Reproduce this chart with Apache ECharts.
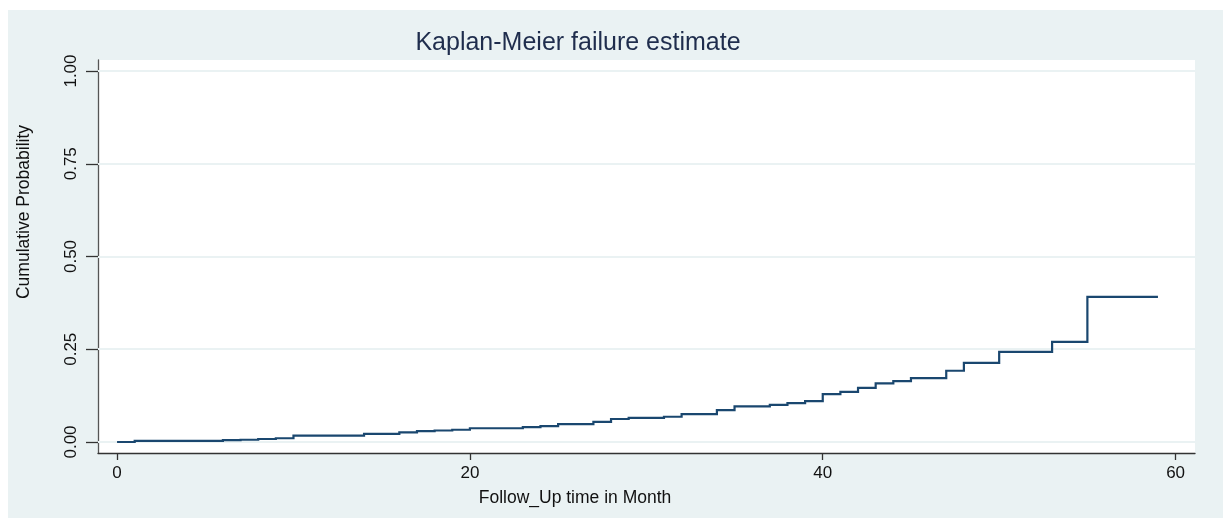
<!DOCTYPE html>
<html><head><meta charset="utf-8">
<script src="https://cdn.jsdelivr.net/npm/echarts@6/dist/echarts.min.js"></script>
<style>html,body{margin:0;padding:0;background:#fff}#c{width:1223px;height:518px}</style>
</head><body><div id="c"></div>
<script>
const titleText = 'Kaplan-Meier failure estimate';
const xTitle = 'Follow_Up time in Month';
const yTitle = 'Cumulative Probability';
const xTicks = [0, 20, 40, 60];
const yTicks = [0, 0.25, 0.5, 0.75, 1];
const months = [0,1,6,7,8,9,10,14,16,17,18,19,20,23,24,25,27,28,29,31,32,34,35,37,38,39,40,41,42,43,44,45,47,48,50,53,55,59];
const failure = [0,0.003,0.005,0.006,0.008,0.010,0.017,0.022,0.026,0.029,0.031,0.033,0.037,0.040,0.043,0.048,0.054,0.062,0.065,0.068,0.075,0.086,0.096,0.100,0.105,0.110,0.129,0.135,0.146,0.158,0.164,0.172,0.192,0.213,0.243,0.270,0.391,0.391];

// Build step-function vertices (horizontal then vertical) from the data arrays
const stepData = [];
months.forEach((m, i) => {
  if (i > 0) stepData.push([m, failure[i-1]]);
  stepData.push([m, failure[i]]);
});

const chart = echarts.init(document.getElementById('c'), null, {renderer:'canvas'});
const font = 'Liberation Sans, Arial, sans-serif';
chart.setOption({
  backgroundColor: '#ffffff',
  animation: false,
  graphic: [
    {type:'rect', z:-10, silent:true, shape:{x:8,y:10,width:1215,height:508}, style:{fill:'#EAF2F3'}},
    {type:'text', x:578, y:43, style:{text:titleText, align:'center', verticalAlign:'middle', fill:'#1f2d4d', font:'25px '+font}},
    {type:'text', x:575, y:498, style:{text:xTitle, align:'center', verticalAlign:'middle', fill:'#111', font:'17.5px '+font}},
    {type:'text', rotation:Math.PI/2, x:24, y:212, style:{text:yTitle, align:'center', verticalAlign:'middle', fill:'#111', font:'17.5px '+font}}
  ],
  grid: {left:98, right:28, top:60, bottom:65, show:true, backgroundColor:'#ffffff', borderWidth:0},
  xAxis: {
    type:'value', min:-1.08, max:61.1,
    axisLine:{show:true, onZero:false, lineStyle:{color:'#333', width:1.3}},
    axisTick:{show:true, length:7, customValues:xTicks, lineStyle:{color:'#333', width:1.3}},
    axisLabel:{customValues:xTicks, margin:12, color:'#111', fontSize:17, fontFamily:font},
    splitLine:{show:false}
  },
  yAxis: {
    type:'value', min:-0.0297, max:1.0297,
    axisLine:{show:true, onZero:false, lineStyle:{color:'#555', width:1.3}},
    axisTick:{show:true, length:12, customValues:yTicks, lineStyle:{color:'#333', width:1.3}},
    axisLabel:{customValues:yTicks, rotate:90, margin:18, color:'#111', fontSize:17, fontFamily:font,
      formatter: v => v.toFixed(2)},
    splitLine:{show:false}
  },
  series: [{
    type:'line', showSymbol:false, symbol:'none',
    data: [], silent:true,
    markLine:{silent:true, symbol:'none', label:{show:false}, z:1,
      lineStyle:{color:'#EAF2F3', width:2, type:'solid'},
      data: yTicks.map(v=>({yAxis:v}))}
  }, {
    type:'lines', coordinateSystem:'cartesian2d', polyline:true, silent:true, z:3,
    data: [{coords: stepData}],
    lineStyle:{color:'#1a476f', width:2.2, opacity:1, join:'miter'}
  }]
});
</script></body></html>
